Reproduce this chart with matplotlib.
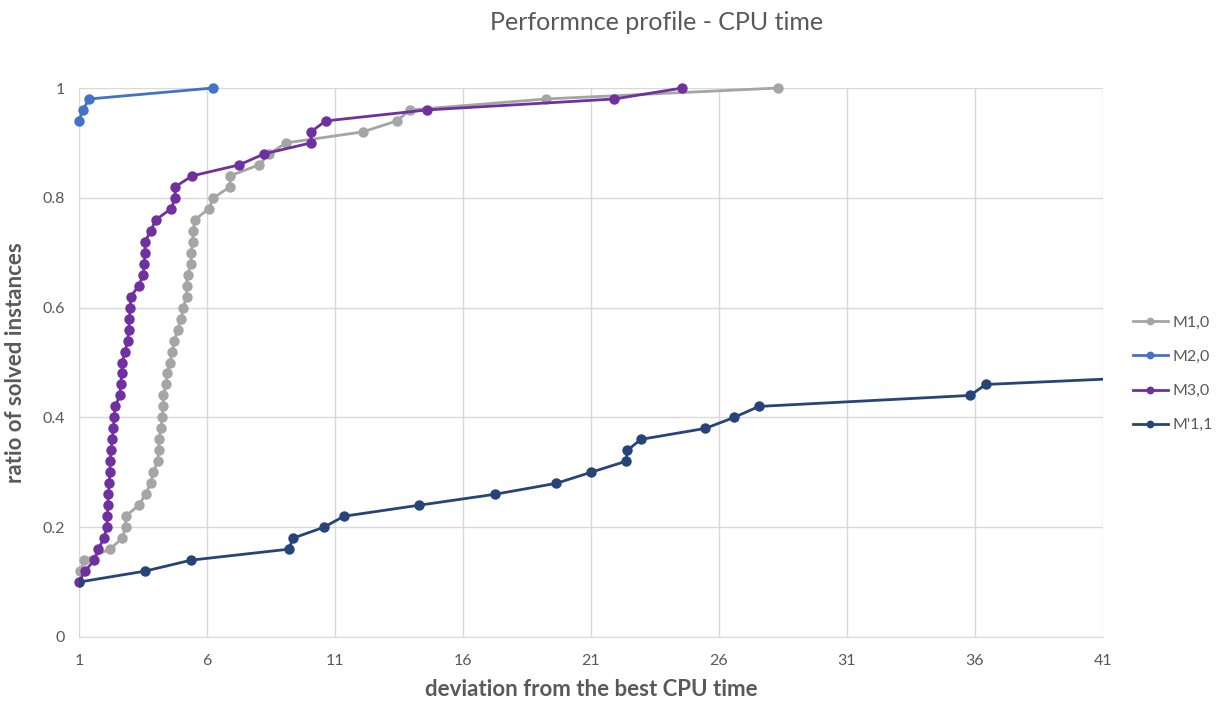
import matplotlib
matplotlib.use("Agg")
import matplotlib.pyplot as plt

plt.rcParams["font.family"] = ["Lato", "DejaVu Sans"]

# ── Data ──────────────────────────────────────────────────────

m1_x = [1.05, 1.2, 2.21, 2.69, 2.82, 2.82, 3.34, 3.6, 3.8, 3.9, 4.07, 4.12,
        4.12, 4.2, 4.25, 4.29, 4.3, 4.4, 4.45, 4.55, 4.64, 4.73, 4.85, 5.0,
        5.07, 5.2, 5.2, 5.24, 5.38, 5.38, 5.44, 5.46, 5.53, 6.07, 6.25, 6.9,
        6.9, 8.03, 8.43, 9.09, 12.08, 13.41, 13.93, 19.23, 28.32]
m1_y = [0.12, 0.14, 0.16, 0.18, 0.20, 0.22, 0.24, 0.26, 0.28, 0.30, 0.32, 0.34,
        0.36, 0.38, 0.40, 0.42, 0.44, 0.46, 0.48, 0.50, 0.52, 0.54, 0.56, 0.58,
        0.60, 0.62, 0.64, 0.66, 0.68, 0.70, 0.72, 0.74, 0.76, 0.78, 0.80, 0.82,
        0.84, 0.86, 0.88, 0.90, 0.92, 0.94, 0.96, 0.98, 1.00]

m2_x = [1.0, 1.15, 1.4, 6.23]
m2_y = [0.94, 0.96, 0.98, 1.00]

m3_x = [1.0, 1.23, 1.60, 1.75, 1.98, 2.08, 2.11, 2.12, 2.15, 2.18, 2.21, 2.21,
        2.25, 2.30, 2.34, 2.38, 2.41, 2.60, 2.63, 2.67, 2.69, 2.80, 2.90, 2.94,
        2.97, 3.0, 3.02, 3.34, 3.51, 3.55, 3.58, 3.58, 3.8, 4.0, 4.6, 4.75,
        4.75, 5.43, 7.26, 8.23, 10.06, 10.06, 10.63, 14.58, 21.91, 24.57]
m3_y = [0.10, 0.12, 0.14, 0.16, 0.18, 0.20, 0.22, 0.24, 0.26, 0.28, 0.30, 0.32,
        0.34, 0.36, 0.38, 0.40, 0.42, 0.44, 0.46, 0.48, 0.50, 0.52, 0.54, 0.56,
        0.58, 0.60, 0.62, 0.64, 0.66, 0.68, 0.70, 0.72, 0.74, 0.76, 0.78, 0.80,
        0.82, 0.84, 0.86, 0.88, 0.90, 0.92, 0.94, 0.96, 0.98, 1.00]

m11_x = [1.0, 3.58, 5.38, 9.2, 9.36, 10.57, 11.35, 14.28, 17.25, 19.65, 21.0,
         22.36, 22.42, 22.95, 25.47, 26.59, 27.56, 35.81, 36.42, 46.0]
m11_y = [0.10, 0.12, 0.14, 0.16, 0.18, 0.20, 0.22, 0.24, 0.26, 0.28, 0.30,
         0.32, 0.34, 0.36, 0.38, 0.40, 0.42, 0.44, 0.46, 0.48]

series = [
    ("M1,0", m1_x, m1_y, "#A5A5A5", False),
    ("M2,0", m2_x, m2_y, "#4472C4", False),
    ("M3,0", m3_x, m3_y, "#7030A0", False),
    ("M'1,1", m11_x, m11_y, "#264478", True),
]

x_ticks = [1, 6, 11, 16, 21, 26, 31, 36, 41]
y_ticks = [0, 0.2, 0.4, 0.6, 0.8, 1.0]
y_labels = ["0", "0.2", "0.4", "0.6", "0.8", "1"]

# ── Figure ────────────────────────────────────────────────────

W, H = 1226, 703
fig = plt.figure(figsize=(W / 100, H / 100), dpi=100, facecolor="white")
ax = fig.add_axes([79 / W, 1 - 637 / H, 1024 / W, 549 / H])

grid_c = "#D9D9D9"
text_c = "#595959"

for label, xs, ys, color, clip in series:
    ax.plot(xs, ys, color=color, lw=2.0, marker="o", ms=7.5,
            markeredgewidth=0, label=label, clip_on=clip, zorder=3)

ax.set_xlim(1, 41)
ax.set_ylim(0, 1)
ax.set_xticks(x_ticks)
ax.set_yticks(y_ticks)
ax.set_yticklabels(y_labels)
ax.grid(True, color=grid_c, lw=1.0, zorder=0)
ax.set_axisbelow(True)
for s in ax.spines.values():
    s.set_visible(False)
ax.spines["bottom"].set_visible(True)
ax.spines["bottom"].set_color(grid_c)
ax.tick_params(length=0, labelsize=11.5, colors=text_c, pad=12)
ax.tick_params(axis="y", pad=10)

ax.set_xlabel("deviation from the best CPU time", fontsize=16, fontweight="bold",
              color=text_c, labelpad=8)
ax.set_ylabel("ratio of solved instances", fontsize=16, fontweight="bold",
              color=text_c, labelpad=12)

fig.text(657 / W, 1 - 22 / H, "Performnce profile - CPU time", fontsize=18,
         color=text_c, ha="center", va="center")

leg = ax.legend(loc="center left", bbox_to_anchor=(1.015, 0.479), frameon=False,
                fontsize=11.5, labelcolor=text_c, handlelength=2.2,
                handletextpad=0.3, labelspacing=1.25, markerscale=0.75)

fig.savefig("out.png", dpi=100)
